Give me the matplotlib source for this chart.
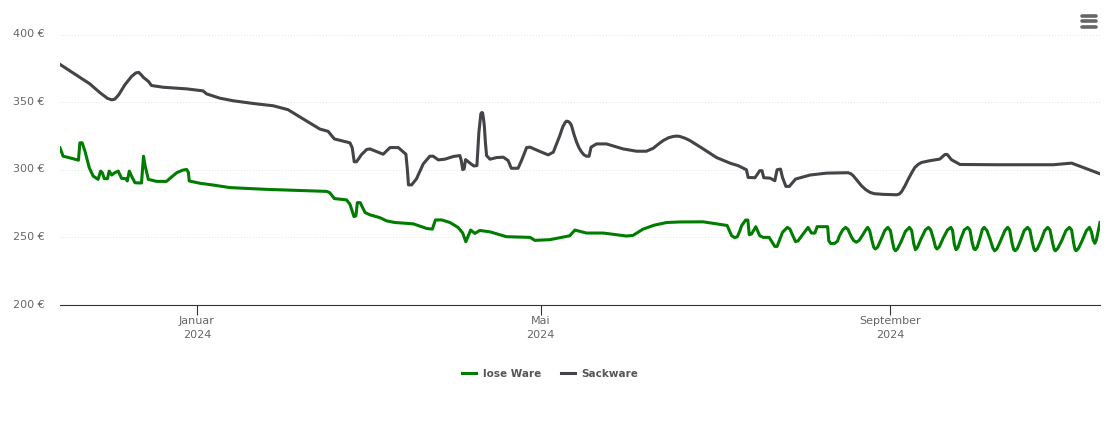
import matplotlib
matplotlib.use("Agg")
import matplotlib.pyplot as plt
from matplotlib.lines import Line2D
from matplotlib.transforms import ScaledTranslation

# days counted from 2024-01-01
lose_days = [-48.2, -47.1, -45.3, -41.7, -41.2, -40.4, -39.4, -37.9, -36.5, -34.8, -33.9, -33.3, -32.6, -31.5,
             -30.9, -30, -28.9, -27.7, -26.5, -25, -24.5, -23.8, -23, -21.8, -19.5, -18.8, -18.2, -17.1, -14.2,
             -10.7, -9, -7.1, -5, -3.6, -3, -2.7, 1.1, 5.7, 11.6, 24.5, 45.7, 46.8, 48.4, 52.7, 53.9, 55.3, 56, 56.5, 57.5,
             59.2, 60.9, 64.4, 66.8, 69.7, 76.2, 80.9, 82.9, 84, 86.2, 89.1, 92, 93.6, 94.7, 96.4, 97.9, 99.6,
             103.2, 109, 117.3, 119, 124.3, 131.3, 133.1, 137.2, 143.1, 151.3, 153.6, 157.1, 161, 165.4, 170, 178.3, 186.7,
             188.3, 189.4, 190.3, 191.2, 191.8, 193.2, 194, 194.5, 195.3, 196.8, 198.2, 199.4, 201.5, 203.5,
             204.3, 206.2, 207.9, 208.8, 210.8, 211.7, 215.2, 216.4, 217.6, 218.4, 222.1, 222.5, 223.2, 224.6, 225.6,
             226.2, 227.4, 228.4, 229.3, 230.3, 231.2, 232.2, 233.2, 234.5, 235.5, 236.2, 236.9, 237.6, 238.3, 238.9,
             239.7, 241, 242.2, 243.3, 244.2, 245, 245.5, 246, 246.7, 248, 249.5, 250.9, 251.7, 252.4, 253,
             253.7, 255, 256.5, 257.6, 258.4, 259.4, 260.1, 260.6, 261.4, 262.8, 264.3, 265.5, 266.1, 266.7, 267.3,
             268, 269, 270.2, 271.4, 272.2, 273, 273.6, 274.1, 274.8, 275.8, 276.6, 277.2, 278.2, 279.4, 280.3, 280.9,
             281.7, 283, 284.5, 285.5, 286.2, 287, 287.6, 288.1, 288.9, 290, 291.3, 292.5, 293.3, 294.2, 294.8, 295.2,
             296, 297.2, 298.5, 299.6, 300.4, 301.3, 301.9, 302.3, 303.1, 304.5, 306, 307.2, 308, 308.7, 309.2, 309.6,
             310.4, 311.7, 313.2, 314.3, 315, 315.6, 316.2, 316.7, 317.4, 318]
lose_prices = [316.2, 310, 309.1, 307.1, 319.9, 319.9, 313.7, 301.5, 295.3, 292.9, 299, 297.8, 293.4, 293.4,
               299, 296.1, 297.8, 299, 293.6, 293.4, 291.7, 299, 295.3, 290.4, 290.2, 310, 302.7, 292.9, 291.4,
               291.4, 294.5, 297.8, 299.7, 300.2, 298, 291.7, 290, 288.7, 286.8, 285.5, 284, 283, 278.7, 277.7, 274.5, 265.4, 265.9, 275.7, 275.7,
               268.4, 266.7, 264.6, 262.2, 261, 260, 256.6, 256.1, 262.9, 262.9, 261, 257.3, 253.2, 246.8, 255.4, 252.9, 255.1,
               254.1, 250.5, 250, 247.8, 248.3, 251.2, 255.4, 253.2, 253.2, 251, 251.5, 256.1, 259, 261, 261.4, 261.5, 258.8,
               251.2, 249.8, 250.5, 254.9, 258.6, 262.8, 262.8, 252, 252.5, 257.9, 251.2, 250, 250, 243.3,
               243.3, 253.7, 257.4, 256.2, 246.8, 247.5, 257.4, 253.2, 253.2, 257.9, 257.9, 247.5, 245.4, 245.6, 247.3,
               251, 255.5, 257.4, 255.8, 251, 247.8, 246.4, 247.8, 252, 255.5, 257.4, 255, 248.5, 242.8, 241.4,
               242.8, 249, 255, 257.4, 255, 246, 241.5, 240.1, 241.5, 247, 254.5, 257.4, 255, 245.5, 240.9,
               242.5, 249, 255.5, 257.4, 255.5, 248.5, 242.8, 241.4, 243, 249.5, 255.5, 257.4, 255, 245, 240.9,
               242.5, 249, 255.5, 257.4, 255.5, 246, 241.5, 240.9, 243, 250, 256, 257.4, 255, 248, 242, 240.1,
               241.5, 247.5, 255, 257.4, 255.5, 246, 241, 240.1, 241.8, 247.5, 255, 257.4, 255.5, 246, 241, 240.1,
               241.8, 247.5, 255, 257.4, 255.5, 246, 241, 240.1, 241.8, 247.5, 255, 257.4, 255.5, 246, 241, 240.1,
               241.8, 247.5, 255, 257.4, 254, 248, 245.6, 248, 255, 261]

sack_days = [-48.2, -37.7, -34.2, -31.5, -30, -28.9, -27.5, -25.4, -23, -21.5, -20.5, -19.5, -18.9, -17.1, -16, -11.9, -3.6, 2.2, 3.4, 8.1,
             12.8, 19.8, 26.9, 32.1, 36.3, 43.3, 46.2, 48.4, 53.9, 54.7, 55.4, 56.2, 58, 59.8, 60.9, 65.6, 68, 70.9,
             73.6, 74.1, 74.5, 75.6, 77.3, 79.7, 82, 83.2, 85, 87.3, 90.3, 92.6, 93.1, 93.6, 94.1, 94.6, 96.1, 97.5,
             98.6, 99.3, 99.7, 100, 100.3, 100.6, 100.9, 101.2, 101.6, 102, 103.2, 105.5, 107.9, 109.6, 110.7, 113.1, 114.3, 116.1, 117.3,
             120.8, 123.7, 125.5, 127.8, 128.8, 129.6, 130.1, 130.7, 131.3, 131.9, 132.8, 133.7, 134.6, 135.5, 136.3, 137.2, 138.1, 138.8, 140.7, 144.2,
             150.1, 154.8, 158.3, 160.7, 162.4, 164.2, 166, 167.7, 169, 170.1, 172, 173.6, 178.3, 183, 187.7, 190.6, 193.5, 194.1, 196.5,
             198.2, 199, 199.6, 201.8, 203.5, 204.3, 205.5, 206.2, 207.4, 208.6, 210.8, 215.9, 221.7, 229.3, 230.3, 231.1,
             234, 235.5, 237, 238.5, 241.7, 246.4, 247.3, 248.1, 249.3, 250.5, 251.7, 252.8, 254, 255.2, 258.1, 261.6, 263.4, 264.2, 265.7, 268.7, 281.6,
             301.5, 308, 318]
sack_prices = [377.9, 363.5, 357.1, 352.8, 351.7, 352.2, 355.5, 362.7, 369, 371.6, 372, 370, 368.4, 365.4, 362.3, 361, 359.8, 358.3, 356.1, 352.9,
               351, 349, 347.3, 344.4, 339, 330.1, 328.4, 322.8, 319.9, 316.2, 305.9, 305.9, 311.3, 315, 315.4, 311.5, 316.4, 316.4,
               311.5, 300.6, 288.8, 288.8, 293.2, 304.3, 310, 310, 307.3, 307.8, 309.8, 310.5, 306.8, 300.1, 300.6, 307.5, 305, 302.8,
               303.1, 327.8, 336, 341.4, 342.3, 342.1, 338, 332.7, 320, 310.5, 307.8, 309, 309.3, 306.8, 301.1, 301.1, 306.8, 316.4, 316.7,
               313.5, 311, 313, 325.3, 331.5, 334.7, 335.9, 335.7, 334.8, 332.7, 326, 320.4, 316, 313, 311, 310, 310, 316.7, 319.1, 319.1,
               315.4, 313.7, 313.7, 315.9, 318.8, 321.6, 323.6, 324.6, 324.9, 324.6, 323.2, 321.6, 315.4, 309, 304.9, 303, 300, 294.3, 294.1,
               299.3, 299.3, 294.1, 293.8, 291.9, 300, 300.5, 294.3, 287.7, 287.7, 293.1, 296.1, 297.5, 297.8, 297, 295.6,
               288.2, 285.3, 283.3, 282.3, 281.8, 281.5, 282, 283.7, 288, 293.1, 297.8, 301.7, 304, 305.4, 306.7, 307.9, 311.3, 311.3, 307.4, 303.9, 303.7,
               303.7, 304.9, 297]

y_ticks = [200, 250, 300, 350, 400]
y_labels = ["200 €", "250 €", "300 €", "350 €", "400 €"]
x_ticks = [0, 121, 244]
x_labels = ["Januar\n2024", "Mai\n2024", "September\n2024"]

W, H = 1110, 423
fig = plt.figure(figsize=(W / 100, H / 100), dpi=100)
ax = fig.add_axes([60 / W, 1 - 305 / H, 1040 / W, 270.5 / H])

ax.plot(lose_days, lose_prices, color="#007c00", lw=2.2, label="lose Ware", solid_joinstyle="round")
ax.plot(sack_days, sack_prices, color="#434348", lw=2.2, label="Sackware", solid_joinstyle="round")

ax.set_xlim(-48.2, 318)
ax.set_ylim(200, 400)
ax.set_yticks(y_ticks, y_labels)
ax.set_xticks(x_ticks, x_labels)
ax.tick_params(axis="y", length=0, pad=11, labelsize=8, labelcolor="#666666")
ax.tick_params(axis="x", length=7.2, width=0.8, color="#333333", pad=1, labelsize=8, labelcolor="#666666")
ax.grid(axis="y", color="#e2e2e2", lw=0.7, ls=(0, (1, 2)))
ax.set_axisbelow(True)
for side in ["top", "left", "right"]:
    ax.spines[side].set_visible(False)
ax.spines["bottom"].set_color("#333333")
ax.spines["bottom"].set_linewidth(0.8)

# y labels sit a little above their gridlines
for label in ax.get_yticklabels():
    label.set_transform(label.get_transform() + ScaledTranslation(0, 1.5 / 100, fig.dpi_scale_trans))
for label in ax.get_xticklabels():
    label.set_linespacing(1.5)

fig.legend(loc="center", bbox_to_anchor=(550 / W, 1 - 374 / H), ncol=2, frameon=False,
           prop={"size": 7.5, "weight": "bold"}, labelcolor="#555555",
           handlelength=1.4, handletextpad=0.6, columnspacing=1.9)

# menu icon top right
for y in [16, 21.3, 26.6]:
    fig.add_artist(Line2D([1082 / W, 1096 / W], [1 - y / H, 1 - y / H], color="#666666", lw=2.6,
                          solid_capstyle="round"))

fig.savefig("out.png", dpi=100)
